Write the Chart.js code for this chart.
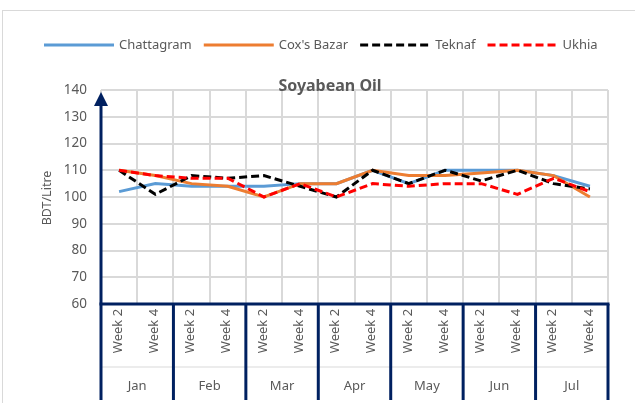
<!DOCTYPE html>
<html>
<head>
<meta charset="utf-8">
<script src="https://cdn.jsdelivr.net/npm/chart.js@4/dist/chart.umd.min.js"></script>
<style>
  html, body { margin: 0; padding: 0; background: #fff; }
  #wrap { position: relative; width: 635px; height: 403px; overflow: hidden; }
  #frame { position: absolute; left: 2px; top: 10px; width: 700px; height: 500px;
           border-left: 1.5px solid #d9d9d9; border-top: 1.5px solid #d9d9d9; }
  canvas { position: absolute; left: 0; top: 0; }
</style>
</head>
<body>
<div id="wrap">
  <div id="frame"></div>
  <canvas id="c" width="635" height="403"></canvas>
</div>
<script>
const months = ['Jan', 'Feb', 'Mar', 'Apr', 'May', 'Jun', 'Jul'];
const weeks = ['Week 2', 'Week 4'];
const seriesNames = ['Chattagram', "Cox's Bazar", 'Teknaf', 'Ukhia'];
const chattagram = [102, 105, 104, 104, 104, 105, 105, 110, 105, 110, 110, 110, 108, 104];
const coxsBazar  = [110, 108, 105, 104, 100, 105, 105, 110, 108, 108, 109, 110, 108, 100];
const teknaf     = [110, 101, 108, 107, 108, 104, 100, 110, 105, 110, 106, 110, 105, 103];
const ukhia      = [110, 108, 107, 107, 100, 105, 100, 105, 104, 105, 105, 101, 107, 102];
const yTicks = [60, 70, 80, 90, 100, 110, 120, 130, 140];
const chartTitle = 'Soyabean Oil';
const yTitle = 'BDT/Litre';

const labels = [];
months.forEach(m => weeks.forEach(w => labels.push(m + ' ' + w)));

const NAVY = '#002060';
const TXT = '#595959';
const FONT = '"Noto Sans", "Liberation Sans", sans-serif';

const styles = [
  { color: '#5b9bd5', dash: [] },
  { color: '#ed7d31', dash: [] },
  { color: '#000000', dash: [8, 4] },
  { color: '#ff0000', dash: [8, 4] }
];
const values = [chattagram, coxsBazar, teknaf, ukhia];

const datasets = seriesNames.map((name, i) => ({
  label: name,
  data: values[i],
  borderColor: styles[i].color,
  backgroundColor: styles[i].color,
  borderDash: styles[i].dash,
  borderWidth: 3,
  pointRadius: 0,
  tension: 0,
  fill: false,
  order: 3 - i
}));

const decor = {
  id: 'decor',
  afterDraw(chart) {
    const ctx = chart.ctx;
    const x = chart.scales.x;
    const a = chart.chartArea;
    ctx.save();

    // Title
    ctx.fillStyle = TXT;
    ctx.font = 'bold 16px ' + FONT;
    ctx.textAlign = 'center';
    ctx.textBaseline = 'middle';
    ctx.fillText(chartTitle, 330, 86);

    // Y axis title
    ctx.save();
    ctx.translate(47, 198);
    ctx.rotate(-Math.PI / 2);
    ctx.font = '12.5px ' + FONT;
    ctx.fillText(yTitle, 0, 0);
    ctx.restore();

    // Legend
    ctx.font = '13px ' + FONT;
    ctx.textAlign = 'left';
    let lx = 44;
    const ly = 45;
    seriesNames.forEach((name, i) => {
      ctx.strokeStyle = styles[i].color;
      ctx.lineWidth = 3;
      ctx.setLineDash(styles[i].dash);
      ctx.beginPath();
      ctx.moveTo(lx, ly);
      ctx.lineTo(lx + 70, ly);
      ctx.stroke();
      ctx.setLineDash([]);
      ctx.fillStyle = TXT;
      ctx.fillText(name, lx + 75, ly);
      lx += 75 + ctx.measureText(name).width + 12;
    });

    // faint line in label area
    const bottom = a.bottom;
    ctx.strokeStyle = '#d9d9d9';
    ctx.lineWidth = 1;
    ctx.beginPath();
    ctx.moveTo(a.left, 367);
    ctx.lineTo(a.right, 367);
    ctx.stroke();

    // Week labels
    ctx.fillStyle = TXT;
    ctx.font = '13px ' + FONT;
    labels.forEach((lab, i) => {
      const px = x.getPixelForValue(i);
      ctx.save();
      ctx.translate(px - 1, 331);
      ctx.rotate(-Math.PI / 2);
      ctx.textAlign = 'center';
      ctx.textBaseline = 'middle';
      ctx.fillText(weeks[i % weeks.length], 0, 0);
      ctx.restore();
    });

    // Month labels and separators
    const half = (x.getPixelForValue(1) - x.getPixelForValue(0)) / 2;
    ctx.textAlign = 'center';
    ctx.textBaseline = 'middle';
    ctx.font = '13px ' + FONT;
    months.forEach((m, mi) => {
      const i0 = mi * weeks.length;
      const i1 = i0 + weeks.length - 1;
      const left = x.getPixelForValue(i0) - half;
      const right = x.getPixelForValue(i1) + half;
      ctx.fillStyle = TXT;
      ctx.fillText(m, (left + right) / 2, 386);
    });
    ctx.strokeStyle = NAVY;
    ctx.lineWidth = 3;
    for (let mi = 0; mi <= months.length; mi++) {
      const idx = Math.min(mi * weeks.length, labels.length - 1);
      const px = x.getPixelForValue(idx) + (mi * weeks.length >= labels.length ? half : -half);
      ctx.beginPath();
      ctx.moveTo(px, bottom);
      ctx.lineTo(px, 400);
      ctx.stroke();
    }

    // X axis line
    ctx.beginPath();
    ctx.moveTo(a.left - 1.5, bottom);
    ctx.lineTo(a.right + 1.5, bottom);
    ctx.stroke();

    // Y axis line with arrow
    ctx.beginPath();
    ctx.moveTo(a.left, bottom);
    ctx.lineTo(a.left, 104);
    ctx.stroke();
    ctx.fillStyle = NAVY;
    ctx.beginPath();
    ctx.moveTo(a.left, 92);
    ctx.lineTo(a.left - 7, 106);
    ctx.lineTo(a.left + 7, 106);
    ctx.closePath();
    ctx.fill();

    ctx.restore();
  }
};

new Chart(document.getElementById('c'), {
  type: 'line',
  data: { labels, datasets },
  options: {
    responsive: false,
    devicePixelRatio: 1,
    animation: false,
    layout: { padding: { left: 0, top: 90, right: 27, bottom: 99 } },
    plugins: { legend: { display: false }, tooltip: { enabled: false }, title: { display: false } },
    scales: {
      x: {
        type: 'category',
        offset: true,
        grid: { offset: true, color: '#d9d9d9', lineWidth: 2, drawTicks: false },
        border: { display: false },
        ticks: { display: false },
        afterFit(s) { s.height = 0; }
      },
      y: {
        min: yTicks[0],
        max: yTicks[yTicks.length - 1],
        afterBuildTicks(s) { s.ticks = yTicks.map(v => ({ value: v })); },
        grid: { color: '#d9d9d9', lineWidth: 2, drawTicks: false },
        border: { display: false },
        ticks: { color: TXT, font: { size: 13.5, family: FONT }, padding: 14 },
        afterFit(s) { s.width = 101; }
      }
    }
  },
  plugins: [decor]
});
</script>
</body>
</html>
